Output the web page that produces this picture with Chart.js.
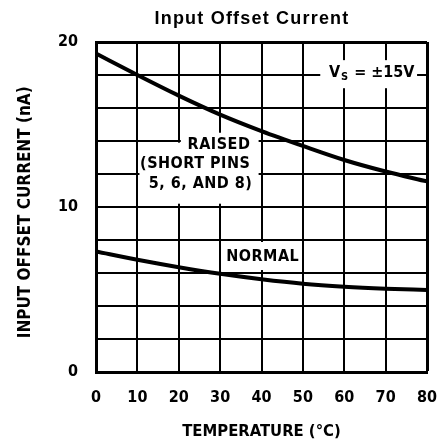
<!DOCTYPE html>
<html>
<head>
<meta charset="utf-8">
<script src="https://cdn.jsdelivr.net/npm/chart.js@4"></script>
<style>
  html, body { margin: 0; padding: 0; background: #fff; }
  #wrap { width: 439px; height: 444px; }
</style>
</head>
<body>
<div id="wrap"><canvas id="c" width="439" height="444"></canvas></div>
<script>
// ---- data ----
const temperatures = [0, 10, 20, 30, 40, 50, 60, 70, 80];
const raisedCurrent = [19.3, 18.0, 16.75, 15.6, 14.6, 13.7, 12.85, 12.15, 11.55];
const normalCurrent = [7.3, 6.8, 6.35, 5.95, 5.62, 5.35, 5.17, 5.05, 4.97];
const yLabelValues = [0, 10, 20];
const xLabelValues = [0, 10, 20, 30, 40, 50, 60, 70, 80];

const chartTitle = 'Input Offset Current';
const xTitle = 'TEMPERATURE (°C)';
const yTitle = 'INPUT OFFSET CURRENT (nA)  ';
const raisedLabel = ['RAISED', '(SHORT PINS', '5, 6, AND 8)'];
const normalLabel = 'NORMAL';

const COND = "'DejaVu Sans Condensed', 'Liberation Sans Narrow', 'DejaVu Sans', sans-serif";
const BOLD16 = { family: COND, size: 16, weight: 'bold' };

function toPts(xs, ys) { return xs.map((x, i) => ({ x: x, y: ys[i] })); }

const annotations = {
  id: 'annotations',
  afterDatasetsDraw(chart) {
    const ctx = chart.ctx;
    const xs = chart.scales.x, ys = chart.scales.y;
    const px = v => xs.getPixelForValue(v);
    const py = v => ys.getPixelForValue(v);
    ctx.save();
    // white boxes behind labels
    ctx.fillStyle = '#fff';
    const rect = (x0, x1, y0, y1) => ctx.fillRect(px(x0), py(y0), px(x1) - px(x0), py(y1) - py(y0));
    rect(20.5, 39.3, 14.5, 13.6);
    rect(10.5, 39.3, 13.9, 10.2);
    rect(30.6, 49.4, 7.88, 6.18);
    rect(54.2, 77.6, 18.9, 17.2);

    ctx.fillStyle = '#000';
    ctx.font = "bold 16px " + COND;
    ctx.letterSpacing = '0.5px';
    ctx.textBaseline = 'middle';
    // RAISED label (right aligned)
    ctx.textAlign = 'right';
    ctx.fillText(raisedLabel[0], px(37.3), py(13.76));
    ctx.fillText(raisedLabel[1], px(37.3), py(12.6));
    ctx.fillText(raisedLabel[2], px(37.8), py(11.4));
    // NORMAL
    ctx.textAlign = 'center';
    ctx.fillText(normalLabel, px(40.3), py(7.0));
    // Vs = ±15V
    ctx.letterSpacing = '0px';
    ctx.textAlign = 'left';
    let x = px(56.3);
    const yv = py(18.12);
    ctx.fillText('V', x, yv);
    x += ctx.measureText('V').width + 1;
    ctx.font = "bold 11px " + COND;
    ctx.fillText('S', x, yv + 4);
    x += ctx.measureText('S').width + 6;
    ctx.font = "bold 16px " + COND;
    ctx.fillText('= \u00B115V', x, yv);

    // chart title
    ctx.font = "bold 18px 'Liberation Sans', Arial, sans-serif";
    ctx.letterSpacing = '1.2px';
    ctx.textAlign = 'center';
    ctx.fillText(chartTitle, 252, 19);
    ctx.restore();
  }
};

new Chart(document.getElementById('c'), {
  type: 'line',
  data: {
    datasets: [
      { label: 'Raised', data: toPts(temperatures, raisedCurrent), borderColor: '#000', borderWidth: 4,
        pointRadius: 0, cubicInterpolationMode: 'monotone', fill: false },
      { label: 'Normal', data: toPts(temperatures, normalCurrent), borderColor: '#000', borderWidth: 4,
        pointRadius: 0, cubicInterpolationMode: 'monotone', fill: false }
    ]
  },
  options: {
    responsive: false,
    animation: false,
    devicePixelRatio: 1,
    layout: { padding: { left: 0, right: 12, top: 42, bottom: 0 } },
    plugins: { legend: { display: false }, tooltip: { enabled: false }, title: { display: false } },
    scales: {
      x: {
        type: 'linear', min: 0, max: 80,
        afterFit(s) { s.height = 72; s.paddingLeft = 0; s.paddingRight = 0; },
        afterBuildTicks(s) { s.ticks = xLabelValues.map(v => ({ value: v })); },
        ticks: { stepSize: 10, color: '#000', font: BOLD16, padding: 16, maxRotation: 0, autoSkip: false },
        grid: { color: '#000', lineWidth: c => (c.tick && c.tick.value === 80 ? 3 : 2), drawTicks: false },
        border: { display: true, color: '#000', width: 3 },
        title: { display: true, text: xTitle, color: '#000', font: { family: COND, size: 16.5, weight: 'bold' }, padding: { top: 0, bottom: 2 } }
      },
      y: {
        type: 'linear', min: 0, max: 20,
        afterFit(s) { s.width = 96; s.paddingTop = 0; s.paddingBottom = 0; },
        ticks: { stepSize: 2, color: '#000', font: BOLD16, padding: 18,
          callback: v => (yLabelValues.includes(v) ? String(v) : '') },
        grid: { color: '#000', lineWidth: c => (c.tick && c.tick.value === 20 ? 3 : 2), drawTicks: false },
        border: { display: true, color: '#000', width: 3 },
        title: { display: true, text: yTitle, color: '#000', font: { family: COND, size: 17, weight: 'bold' }, padding: { top: 15, bottom: 0 } }
      }
    }
  },
  plugins: [annotations]
});
</script>
</body>
</html>
